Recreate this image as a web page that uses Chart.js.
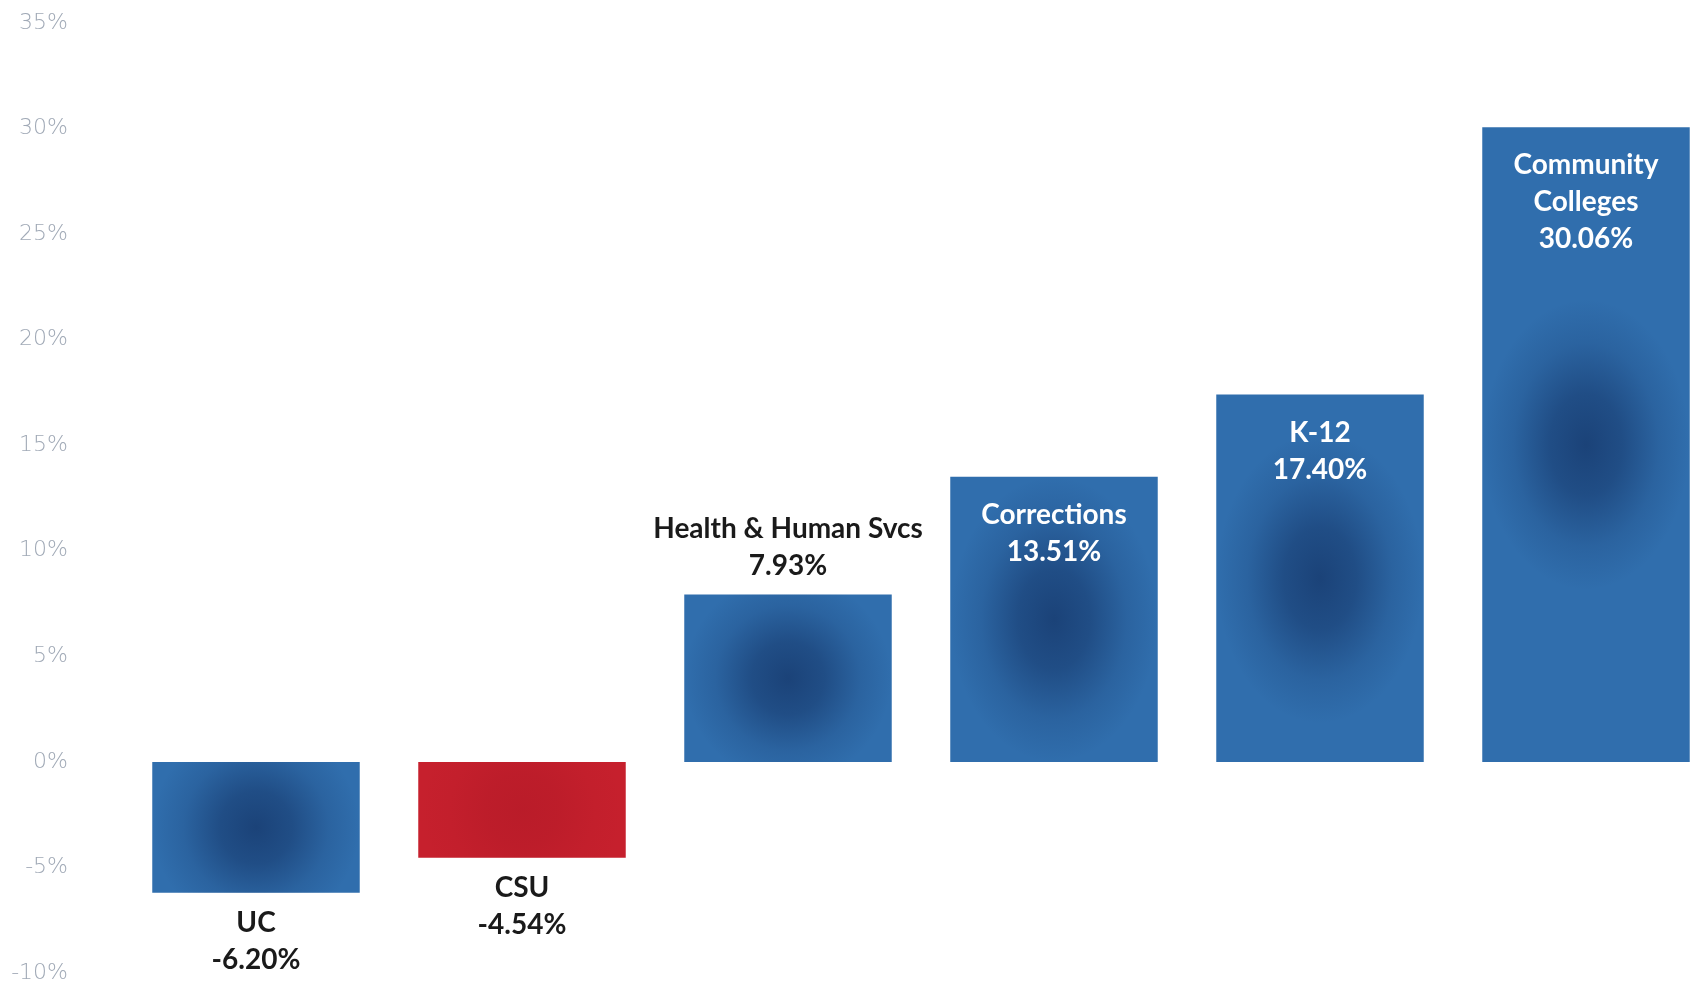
<!DOCTYPE html>
<html>
<head>
<meta charset="utf-8">
<script src="https://cdn.jsdelivr.net/npm/chart.js@4.4.1/dist/chart.umd.min.js"></script>
<style>
  html, body { margin: 0; padding: 0; background: #fff; overflow: hidden; }
  #wrap { position: absolute; left: 0; top: 0; width: 1719px; height: 984px; }
</style>
</head>
<body>
<div id="wrap"><canvas id="budgetChart"></canvas></div>
<script>
const categories = [['UC'], ['CSU'], ['Health & Human Svcs'], ['Corrections'], ['K-12'], ['Community', 'Colleges']];
const values = [-6.20, -4.54, 7.93, 13.51, 17.40, 30.06];
const valueLabels = ['-6.20%', '-4.54%', '7.93%', '13.51%', '17.40%', '30.06%'];
const labelPlace = ['below', 'below', 'above', 'inside', 'inside', 'inside'];
const barColors = ['#306ead', '#c6202d', '#306ead', '#306ead', '#306ead', '#306ead'];
const shadeColors = ['18,48,98', '150,15,30', '18,48,98', '18,48,98', '18,48,98', '18,48,98'];
const shadeStrength = [0.7, 0.25, 0.7, 0.7, 0.7, 0.7];
const yMin = -10;
const yMax = 35;
const yStep = 5;

// darker soft spot in the middle of every bar
const shadePlugin = {
  id: 'shade',
  afterDatasetsDraw(chart) {
    const ctx = chart.ctx;
    chart.getDatasetMeta(0).data.forEach((bar, i) => {
      const left = bar.x - bar.width / 2;
      const top = Math.min(bar.y, bar.base);
      const h = Math.abs(bar.base - bar.y);
      const cy = top + h / 2;
      const r = bar.width * 0.5;
      const stretch = Math.max(1, Math.min(1.4, h / bar.width));
      const c = shadeColors[i], a = shadeStrength[i];
      ctx.save();
      ctx.beginPath();
      ctx.rect(left, top, bar.width, h);
      ctx.clip();
      ctx.translate(bar.x, cy);
      ctx.scale(1, stretch);
      const g = ctx.createRadialGradient(0, 0, 0, 0, 0, r);
      g.addColorStop(0, `rgba(${c},${a})`);
      g.addColorStop(0.35, `rgba(${c},${a * 0.75})`);
      g.addColorStop(0.7, `rgba(${c},${a * 0.25})`);
      g.addColorStop(1, `rgba(${c},0)`);
      ctx.fillStyle = g;
      ctx.fillRect(-bar.width, -h, bar.width * 2, h * 2);
      ctx.restore();
    });
  }
};

// category name + value written next to / inside each bar
const labelPlugin = {
  id: 'barLabels',
  afterDatasetsDraw(chart) {
    const ctx = chart.ctx;
    const lineH = 37;
    ctx.save();
    ctx.font = 'bold 28px Lato, "Open Sans", sans-serif';
    ctx.textAlign = 'center';
    ctx.textBaseline = 'middle';
    chart.getDatasetMeta(0).data.forEach((bar, i) => {
      const lines = categories[i].concat([valueLabels[i]]);
      let y0;
      if (labelPlace[i] === 'inside') {
        ctx.fillStyle = '#ffffff';
        y0 = bar.y + 38;
      } else if (labelPlace[i] === 'above') {
        ctx.fillStyle = '#1a1a1a';
        y0 = bar.y - 29 - (lines.length - 1) * lineH;
      } else {
        ctx.fillStyle = '#1a1a1a';
        y0 = bar.y + 30;
      }
      lines.forEach((t, k) => ctx.fillText(t, bar.x, y0 + k * lineH));
    });
    ctx.restore();
  }
};

const ctx = document.getElementById('budgetChart').getContext('2d');
new Chart(ctx, {
  type: 'bar',
  data: {
    labels: categories.map(c => c.join(' ')),
    datasets: [{
      data: values,
      backgroundColor: barColors,
      borderWidth: 0,
      barPercentage: 0.78,
      categoryPercentage: 1.0
    }]
  },
  options: {
    responsive: true,
    maintainAspectRatio: false,
    animation: false,
    layout: { padding: { top: 23, bottom: 11, left: 0, right: 0 } },
    scales: {
      x: { display: false },
      y: {
        min: yMin,
        max: yMax,
        grid: { display: false, drawTicks: false },
        border: { display: false },
        ticks: {
          stepSize: yStep,
          padding: 55,
          color: '#a0a9b6',
          font: { family: '"DejaVu Sans", sans-serif', size: 22, weight: '200' },
          callback: v => v + '%'
        },
        afterFit(scale) {
          scale.width = 123;
          scale.paddingTop = 0;
          scale.paddingBottom = 0;
        }
      }
    },
    plugins: {
      legend: { display: false },
      tooltip: { enabled: false }
    }
  },
  plugins: [shadePlugin, labelPlugin]
});
</script>
</body>
</html>
